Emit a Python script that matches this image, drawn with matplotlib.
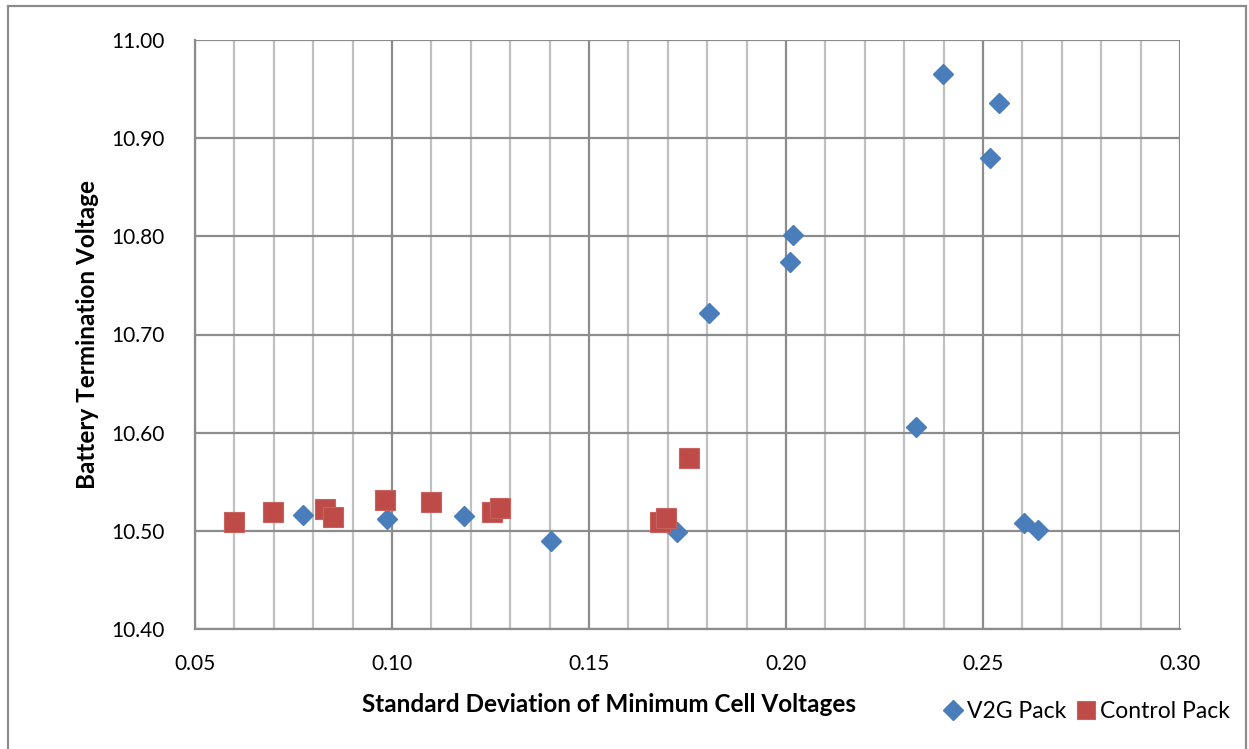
import matplotlib
matplotlib.use("Agg")
import matplotlib.pyplot as plt
from matplotlib.patches import Rectangle
from matplotlib.ticker import MultipleLocator, FormatStrFormatter

# V2G pack: std. dev. of minimum cell voltages vs. termination voltage
v2g_std = [0.0774, 0.0988, 0.1184, 0.1404, 0.1724, 0.1805, 0.2010, 0.2018,
           0.2330, 0.2399, 0.2541, 0.2519, 0.2604, 0.2640]
v2g_volt = [10.516, 10.512, 10.515, 10.490, 10.499, 10.722, 10.774, 10.801,
            10.606, 10.965, 10.936, 10.880, 10.508, 10.501]

# Control pack
ctrl_std = [0.0599, 0.0699, 0.0830, 0.0849, 0.0983, 0.1099, 0.1253, 0.1273,
            0.1680, 0.1695, 0.1754]
ctrl_volt = [10.509, 10.519, 10.522, 10.514, 10.531, 10.529, 10.519, 10.523,
             10.509, 10.513, 10.574]

series_names = ["V2G Pack", "Control Pack"]
x_label = "Standard Deviation of Minimum Cell Voltages"
y_label = "Battery Termination Voltage"

plt.rcParams["font.family"] = ["Lato", "DejaVu Sans"]

fig = plt.figure(figsize=(12.49, 7.49), dpi=100)
ax = fig.add_axes([195 / 1249, 1 - 629 / 749, (1180 - 195) / 1249, (629 - 40) / 749])

ax.set_xlim(0.05, 0.30)
ax.set_ylim(10.40, 11.00)
ax.xaxis.set_major_locator(MultipleLocator(0.05))
ax.xaxis.set_minor_locator(MultipleLocator(0.01))
ax.yaxis.set_major_locator(MultipleLocator(0.10))
ax.xaxis.set_major_formatter(FormatStrFormatter("%.2f"))
ax.yaxis.set_major_formatter(FormatStrFormatter("%.2f"))

ax.grid(which="minor", axis="x", color="#C0C0C0", linewidth=1.6, zorder=0)
ax.grid(which="major", axis="x", color="#8C8C8C", linewidth=1.6, zorder=0)
ax.grid(which="major", axis="y", color="#8C8C8C", linewidth=1.6, zorder=0)
ax.set_axisbelow(True)

for side in ["top", "right"]:
    ax.spines[side].set_visible(False)
for side in ["left", "bottom"]:
    ax.spines[side].set_color("#8C8C8C")
    ax.spines[side].set_linewidth(1.6)

ax.tick_params(which="both", length=0, labelsize=15, colors="black")
ax.tick_params(axis="x", pad=18)
ax.tick_params(axis="y", pad=22)

ax.plot(v2g_std, v2g_volt, linestyle="none", marker="D", markersize=10.5,
        color="#4A7EBB", markeredgecolor="#4A7EBB", label=series_names[0], zorder=3)
ax.plot(ctrl_std, ctrl_volt, linestyle="none", marker="s", markersize=14,
        color="#BE4B48", markeredgecolor="#C8625F", markeredgewidth=0.8,
        label=series_names[1], zorder=4)

ax.set_xlabel(x_label, fontsize=17.5, fontweight="bold", va="center")
ax.xaxis.set_label_coords((609 - 195) / 985, (629 - 704) / 589)
ax.set_ylabel(y_label, fontsize=17.5, fontweight="bold", va="center")
ax.yaxis.set_label_coords((88 - 195) / 985, 0.5)

leg = fig.legend(loc="center", bbox_to_anchor=(1088 / 1249, 1 - 712 / 749),
                 ncol=2, frameon=False, fontsize=16.5, handlelength=0.6,
                 handletextpad=0.3, columnspacing=0.6, markerscale=0.95)

# outer chart border
fig.patches.append(Rectangle((8 / 1249, -0.05), (1246 - 8) / 1249, 1.05 - 6 / 749,
                             transform=fig.transFigure, fill=False,
                             edgecolor="#8C8C8C", linewidth=1.6))

fig.savefig("out.png", dpi=100)
